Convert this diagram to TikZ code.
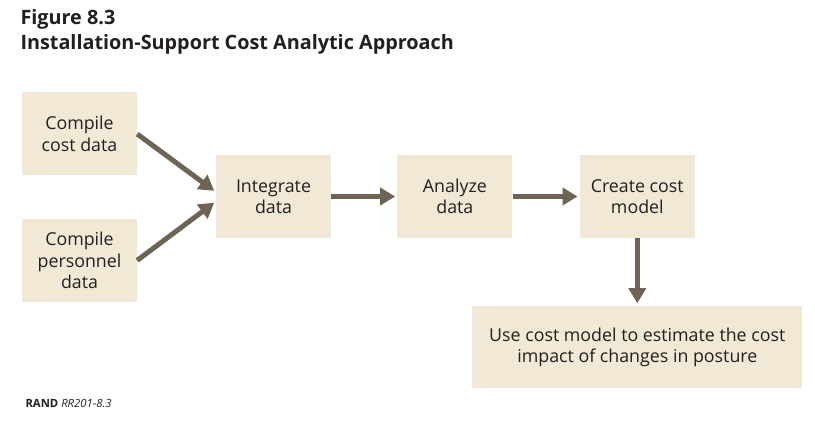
\documentclass[tikz,border=0pt]{standalone}
\usepackage{fontspec}
\setmainfont{Open Sans}
\usetikzlibrary{positioning}
\usetikzlibrary{arrows.meta}
\definecolor{boxfill}{HTML}{F2E8D6}
\definecolor{arrowgray}{HTML}{6E6455}
\definecolor{textdark}{HTML}{231F20}

\begin{document}
\begin{tikzpicture}[x=1pt,y=-1pt,
	box/.style={fill=boxfill, minimum width=115pt, minimum height=83pt, inner sep=0pt, align=center, text=textdark, font=\fontsize{17.8}{21.5}\selectfont},
	flow/.style={draw=arrowgray, line width=5pt, -{Triangle[length=15pt,width=17pt]}, shorten >=2pt}]
		\useasboundingbox (0,0) rectangle (815,425);
		\node (title1) [anchor=base west, text=textdark, font=\bfseries\fontsize{19.8}{22}\selectfont] at (17,25) {Figure 8.3};
		\node (title2) [anchor=base west, text=textdark, font=\bfseries\fontsize{19.8}{22}\selectfont] at (17,50) {Installation-Support Cost Analytic Approach};
		\node (costdata) [box] at (79.5,134) {Compile\\cost data};
		\node (persdata) [box, below=43pt of costdata] {Compile\\personnel\\data};
		\node (integ) [box] at (273.5,196.5) {Integrate\\data};
		\node (analyze) [box, right=66pt of integ] {Analyze\\data};
		\node (model) [box, right=67pt of analyze] {Create cost\\model};
		\node (posture) [box, below=68pt of model, minimum width=330pt, minimum height=82pt] {Use cost model to estimate the cost\\impact of changes in posture};
		\node (credit) [anchor=base west, text=textdark, font=\fontsize{11.3}{13}\selectfont] at (22,407) {\textbf{RAND} \textit{RR201-8.3}};
		\draw[flow] (costdata.east) -- ([yshift=4.5pt]integ.west);
		\draw[flow] (persdata.east) -- ([yshift=-5pt]integ.west);
		\draw[flow] (integ) -- (analyze);
		\draw[flow] (analyze) -- (model);
		\draw[flow, shorten >=3pt] (model) -- (posture);
\end{tikzpicture}
\end{document}
